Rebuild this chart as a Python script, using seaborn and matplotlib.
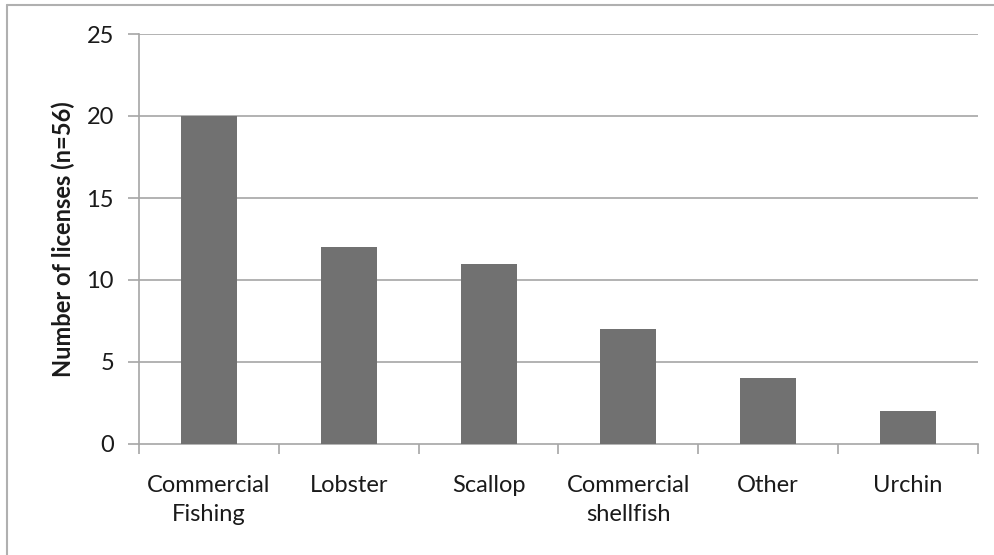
import matplotlib
matplotlib.use("Agg")
import matplotlib.pyplot as plt
import seaborn as sns
import pandas as pd
from matplotlib.lines import Line2D

categories = ["Commercial\nFishing", "Lobster", "Scallop", "Commercial\nshellfish", "Other", "Urchin"]
licenses = [20, 12, 11, 7, 4, 2]
y_ticks = [0, 5, 10, 15, 20, 25]

df = pd.DataFrame({"category": categories, "licenses": licenses})

sns.set_theme(style="white")
plt.rcParams["font.family"] = ["Lato", "DejaVu Sans"]

W, H = 994, 555
fig = plt.figure(figsize=(W / 100, H / 100), dpi=100)
ax = fig.add_axes([139 / W, 1 - 444 / H, (978 - 139) / W, (444 - 34) / H])

grid_c = "#a6a6a6"
txt_c = "#1a1a1a"
fs = 17
sns.barplot(data=df, x="category", y="licenses", color="#717171", width=0.4,
            saturation=1, linewidth=0, ax=ax, zorder=3)

ax.set_xlim(-0.5, len(categories) - 0.5)
ax.set_ylim(0, 25)
ax.set_yticks(y_ticks)
ax.set_yticklabels([str(v) for v in y_ticks], fontsize=fs, color=txt_c)
for v in y_ticks[1:]:
    ax.axhline(v, color=grid_c, lw=1.2, zorder=1)

# category boundary ticks on the x axis
ax.set_xticks([i - 0.5 for i in range(len(categories) + 1)], minor=False)
ax.set_xticklabels([])
ax.set_xticks(range(len(categories)), minor=True)
ax.set_xticklabels(categories, minor=True, fontsize=fs, color=txt_c, linespacing=1.5)
ax.tick_params(axis="x", which="major", direction="out", length=7, width=1.2, color=grid_c, bottom=True)
ax.tick_params(axis="x", which="minor", length=0, pad=22)
ax.tick_params(axis="y", direction="out", length=8, width=1.2, color=grid_c, left=True, pad=10)

for s in ["top", "right"]:
    ax.spines[s].set_visible(False)
for s in ["left", "bottom"]:
    ax.spines[s].set_color(grid_c)
    ax.spines[s].set_linewidth(1.2)

ax.set_xlabel("")
ax.set_ylabel("Number of licenses (n=56)", fontsize=fs, fontweight="bold", color=txt_c, labelpad=8)

# chart frame
fig.add_artist(Line2D([7 / W, 7 / W], [0, 1 - 5 / H], transform=fig.transFigure, color="#b0b0b0", lw=1.5))
fig.add_artist(Line2D([7 / W, 1], [1 - 5 / H, 1 - 5 / H], transform=fig.transFigure, color="#b0b0b0", lw=1.5))

fig.savefig("out.png", dpi=100, facecolor="white")
